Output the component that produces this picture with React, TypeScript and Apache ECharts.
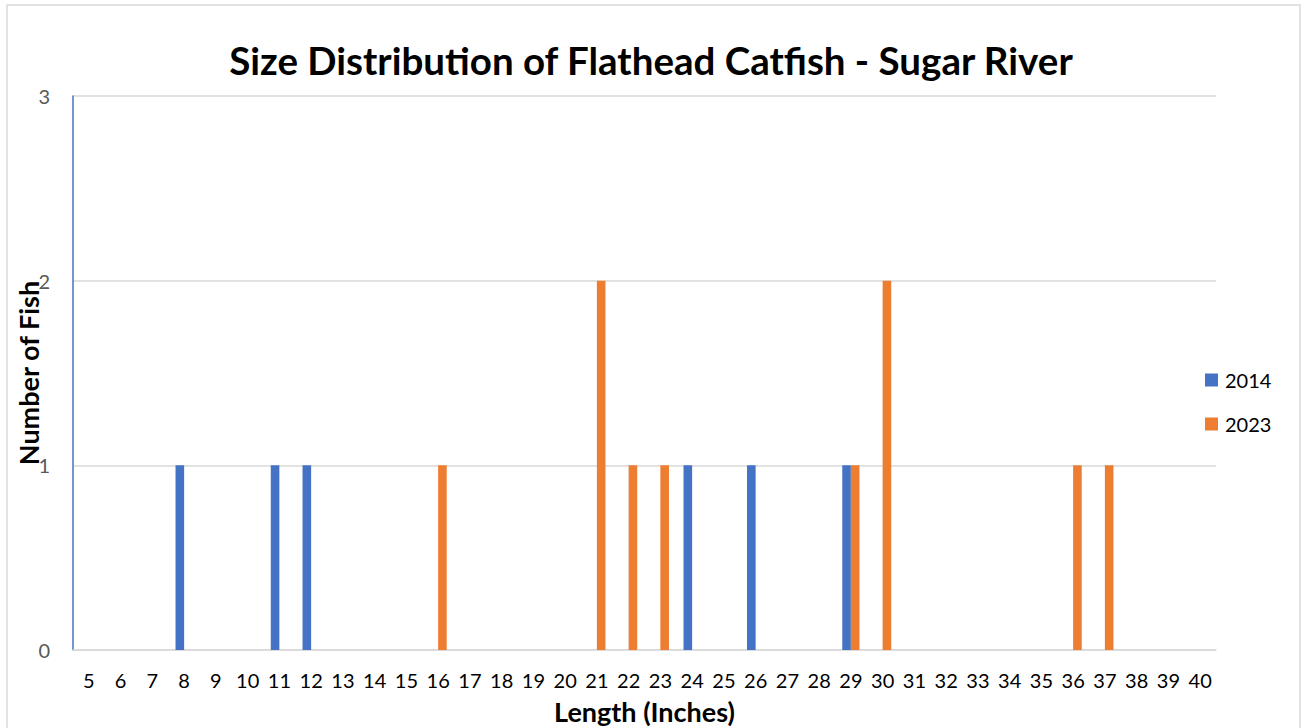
import React, { useEffect, useRef } from "react";
import * as echarts from "echarts";

const categories = ["5","6","7","8","9","10","11","12","13","14","15","16","17","18","19","20","21","22","23","24","25","26","27","28","29","30","31","32","33","34","35","36","37","38","39","40"];
const series2014 = [0,0,0,1,0,0,1,1,0,0,0,0,0,0,0,0,0,0,0,1,0,1,0,0,1,0,0,0,0,0,0,0,0,0,0,0];
const series2023 = [0,0,0,0,0,0,0,0,0,0,0,1,0,0,0,0,2,1,1,0,0,0,0,0,1,2,0,0,0,0,0,1,1,0,0,0];
const yTicks = [0, 1, 2, 3];

const FONT = "Lato, 'Open Sans', sans-serif";

export default function App() {
  const ref = useRef<HTMLDivElement>(null);
  useEffect(() => {
    if (!ref.current) return;
    const chart = echarts.init(ref.current, null, { renderer: "svg" });
    chart.setOption({
      animation: false,
      backgroundColor: "#ffffff",
      title: {
        text: "Size Distribution of Flathead Catfish - Sugar River",
        left: "center",
        top: 35,
        textStyle: { fontFamily: FONT, fontWeight: "bold", fontSize: 38.5, color: "#000000" },
      },
      graphic: [
        {
          type: "rect",
          shape: { x: 7, y: 5, width: 1293, height: 760 },
          style: { fill: "none", stroke: "#d9d9d9", lineWidth: 1.5 },
          silent: true,
        },
      ],
      legend: {
        orient: "vertical",
        left: 1200,
        top: 365,
        itemWidth: 13,
        itemHeight: 13,
        itemGap: 24,
        icon: "rect",
        textStyle: { fontFamily: FONT, fontSize: 20, color: "#000000", padding: [0, 0, 0, 2] },
        data: ["2014", "2023"],
      },
      grid: { left: 73, right: 86, top: 96, bottom: 78, outerBoundsMode: "none", containLabel: false },
      xAxis: {
        type: "category",
        data: categories,
        name: "Length (Inches)",
        nameLocation: "middle",
        nameGap: 48,
        nameMoveOverlap: false,
        nameTextStyle: { fontFamily: FONT, fontWeight: "bold", fontSize: 27, color: "#000000" },
        axisTick: { show: false },
        axisLine: { lineStyle: { color: "#d9d9d9", width: 1.5 } },
        axisLabel: { interval: 0, margin: 20, fontFamily: FONT, fontSize: 20, color: "#000000" },
      },
      yAxis: {
        type: "value",
        min: yTicks[0],
        max: yTicks[yTicks.length - 1],
        interval: 1,
        name: "Number of Fish",
        nameLocation: "middle",
        nameGap: 31,
        nameMoveOverlap: false,
        nameTextStyle: { fontFamily: FONT, fontWeight: "bold", fontSize: 27, color: "#000000" },
        axisLine: { show: true, lineStyle: { color: "#4472C4", width: 1.5 } },
        axisTick: { show: false },
        axisLabel: { margin: 23, fontFamily: FONT, fontSize: 20, color: "#595959" },
        splitLine: { lineStyle: { color: "#d9d9d9", width: 1.5 } },
      },
      series: [
        {
          name: "2014",
          type: "bar",
          data: series2014,
          barWidth: 8.6,
          barGap: "0%",
          itemStyle: { color: "#4472C4" },
        },
        {
          name: "2023",
          type: "bar",
          data: series2023,
          barWidth: 8.6,
          barGap: "0%",
          itemStyle: { color: "#ED7D31" },
        },
      ],
    });
    return () => chart.dispose();
  }, []);
  return (
    <div
      ref={ref}
      style={{ position: "absolute", left: 0, top: 0, width: 1302, height: 728 }}
    />
  );
}
